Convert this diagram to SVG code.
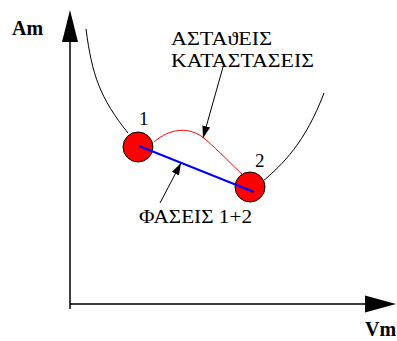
<svg xmlns="http://www.w3.org/2000/svg" width="397" height="341" viewBox="0 0 397 341">
<style>
.ln{fill:none;stroke:#000;stroke-width:1}
.ax{fill:none;stroke:#000;stroke-width:1.5}
</style>
<defs>
<marker id="ah" markerWidth="12" markerHeight="8" refX="12" refY="4" orient="auto" markerUnits="userSpaceOnUse"><path d="M0,0 L12,4 L0,8 Z" fill="#000"/></marker>
</defs>
<rect width="397" height="341" fill="#fff"/>
<g id="axes">
<path class="ax" d="M70,309 V40"/>
<path d="M70,10 L78,42 L62,42 Z" fill="#000"/>
<path class="ax" d="M70,304 H366"/>
<path d="M396,304 L365,295.5 L365,312.5 Z" fill="#000"/>
<text x="12" y="35" style="font-family:'Liberation Serif',serif;font-size:20px;font-weight:bold">Am</text>
<text x="365" y="336" style="font-family:'Liberation Serif',serif;font-size:20px;font-weight:bold">Vm</text>
</g>
<g id="connectors">
<path class="ln" d="M86,29 C92,75 100,98 128,133"/>
<path class="ln" d="M262,182 C283,164 305,143 324,93"/>
<path d="M154,142 C170,128 190,126 205,139 C220,152 232,165 242,174" fill="none" stroke="#f00" stroke-width="1"/>
<path class="ln" d="M223,67 L203,138" marker-end="url(#ah)"/>
<path class="ln" d="M160,203 L181,163" marker-end="url(#ah)"/>
</g>
<g id="node1">
<circle cx="138" cy="147" r="15" fill="#f00" stroke="#000" stroke-width="1"/>
<text x="139" y="125" style="font-family:'Liberation Serif',serif;font-size:19px">1</text>
</g>
<g id="node2">
<circle cx="250" cy="187" r="15" fill="#f00" stroke="#000" stroke-width="1"/>
<text x="255" y="167" style="font-family:'Liberation Serif',serif;font-size:19px">2</text>
</g>
<g id="phase">
<path d="M139,146 L254,192" stroke="#00f" stroke-width="2"/>
</g>
<g id="labels">
<text x="171" y="45" textLength="101" lengthAdjust="spacingAndGlyphs" style="font-family:'Liberation Serif',serif;font-size:19px">ΑΣΤΑϑΕΙΣ</text>
<text x="171" y="67" textLength="143" lengthAdjust="spacingAndGlyphs" style="font-family:'Liberation Serif',serif;font-size:19px">ΚΑΤΑΣΤΑΣΕΙΣ</text>
<text x="139" y="223" textLength="113" lengthAdjust="spacingAndGlyphs" style="font-family:'Liberation Serif',serif;font-size:19px">ΦΑΣΕΙΣ 1+2</text>
</g>
</svg>
